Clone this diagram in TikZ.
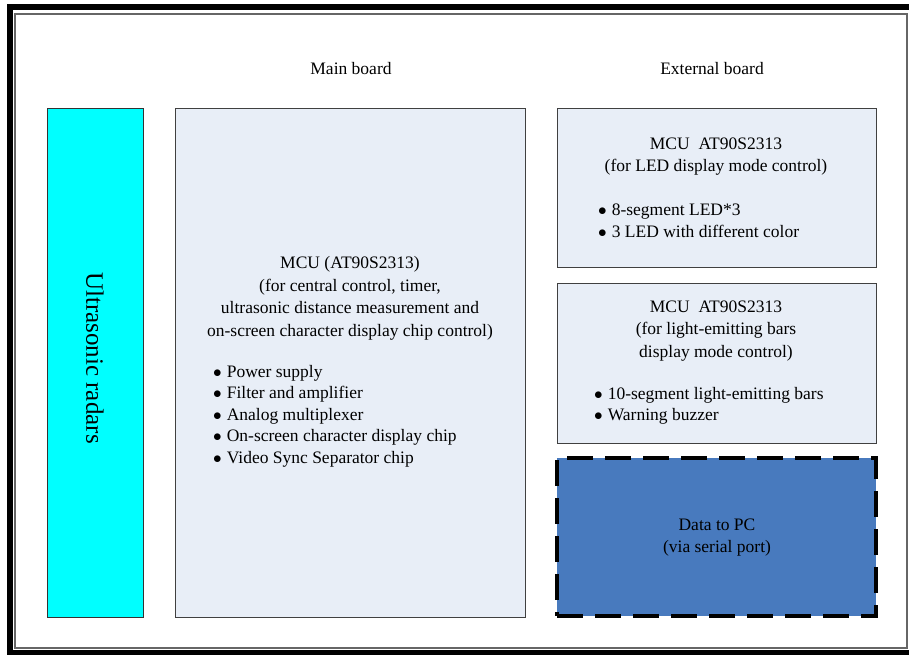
\documentclass[tikz,border=0pt]{standalone}
\usepackage{fontspec}
\setmainfont{Liberation Serif}
\definecolor{boardfill}{RGB}{232,238,247}
\definecolor{pcfill}{RGB}{72,122,190}
\definecolor{radarfill}{RGB}{0,255,255}
\tikzset{
  board/.style={draw=black!75, line width=0.8bp, fill=boardfill, inner sep=0pt},
  boxtitle/.style={align=center, inner sep=0pt, font=\fontsize{17.5bp}{22.5bp}\selectfont},
  boxlist/.style={align=left, anchor=west, inner sep=0pt, font=\fontsize{17.5bp}{21.5bp}\selectfont},
}
\newcommand{\blt}{$\bullet$\hspace{5bp}}

\begin{document}
\begin{tikzpicture}[x=1bp,y=-1bp]
\useasboundingbox (0,0) rectangle (909,655);
%% frame
\draw [line width=6bp] (909,7) -- (10,7) -- (10,652.5) -- (909,652.5);
\draw [black!60, line width=1.2bp] (15,14) rectangle (907,648);
%% column headings
\node [boxtitle] (mainhead) at (351,69) {Main board};
\node [boxtitle] (exthead) at (712,69) {External board};
%
  % Node: radar
\node [draw=black!80, line width=0.8bp, fill=radarfill, minimum width=96bp, minimum height=509bp] (radar) at (95,362.5) {};
\node [rotate=-90, inner sep=0pt, font=\fontsize{25bp}{30bp}\selectfont] (radartext) at (95,358) {Ultrasonic radars};
  % Node: mainboard
\node [board, minimum width=350bp, minimum height=509bp] (mainboard) at (350,362.5) {};
\node [boxtitle] (maintitle) at (350,298.5) {MCU (AT90S2313)\\(for central control, timer,\\ultrasonic distance measurement and\\on-screen character display chip control)};
\node [boxlist] (mainlist) at (213,416) {\blt Power supply\\\blt Filter and amplifier\\\blt Analog multiplexer\\\blt On-screen character display chip\\\blt Video Sync Separator chip};
  % Node: ledboard
\node [board, minimum width=319bp, minimum height=159bp] (ledboard) at (716.5,187.5) {};
\node [boxtitle] (ledtitle) at (716,156.5) {MCU\ \ AT90S2313\\(for LED display mode control)};
\node [boxlist] (ledlist) at (598,221) {\blt 8-segment LED*3\\\blt 3 LED with different color};
  % Node: barboard
\node [board, minimum width=319bp, minimum height=160bp] (barboard) at (716.5,363) {};
\node [boxtitle] (bartitle) at (716,331) {MCU\ \ AT90S2313\\(for light-emitting bars\\display mode control)};
\node [boxlist] (barlist) at (594,406) {\blt 10-segment light-emitting bars\\\blt Warning buzzer};
  % Node: pcport
\node [draw=black, fill=pcfill, line width=3.5bp, dash pattern=on 26bp off 12bp, minimum width=319bp, minimum height=158bp] (pcport) at (716.5,537) {};
\node [boxtitle] (pctext) at (717,537.5) {Data to PC\\(via serial port)};
%
\end{tikzpicture}
\end{document}
